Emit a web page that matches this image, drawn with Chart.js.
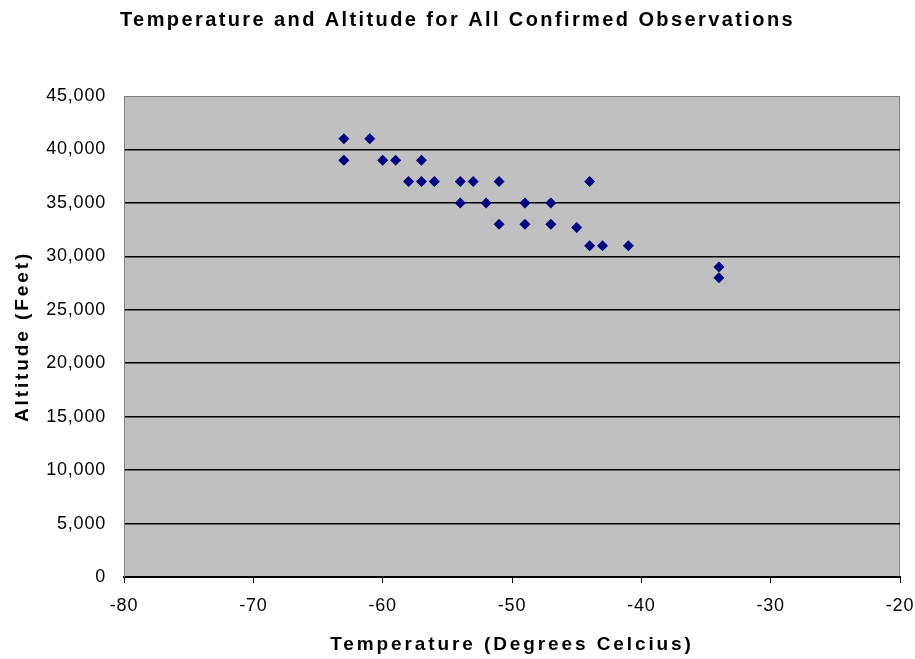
<!DOCTYPE html>
<html>
<head>
<meta charset="utf-8">
<script src="https://cdn.jsdelivr.net/npm/chart.js@4"></script>
<style>
  html, body { margin: 0; padding: 0; background: #fff; }
  #wrap { width: 915px; height: 659px; }
</style>
</head>
<body>
<div id="wrap"><canvas id="chart" width="915" height="659"></canvas></div>
<script>
// temperature (deg C) and altitude (ft) of each confirmed observation
const temperatures = [-63, -61, -63, -60, -59, -57, -58, -57, -56, -54, -53, -51, -44,
  -54, -52, -49, -47, -51, -49, -47, -45, -44, -43, -41, -34, -34];
const altitudes = [41000, 41000, 39000, 39000, 39000, 39000, 37000, 37000, 37000, 37000, 37000, 37000, 37000,
  35000, 35000, 35000, 35000, 33000, 33000, 33000, 32700, 31000, 31000, 31000, 29000, 28000];
const xTicks = [-80, -70, -60, -50, -40, -30, -20];
const yTicks = [0, 5000, 10000, 15000, 20000, 25000, 30000, 35000, 40000, 45000];

const points = temperatures.map((t, i) => ({ x: t, y: altitudes[i] }));

const canvas = document.getElementById('chart');
const ctx = canvas.getContext('2d');

// the original is an old spreadsheet render with loosely spaced text
const rawFill = ctx.fillText.bind(ctx);
const rawMeasure = ctx.measureText.bind(ctx);
const spacing = () => {
  const f = ctx.font;
  if (/20px/.test(f)) return '2.4px';
  if (/bold|700/.test(f)) return '2.9px';
  return '0.8px';
};
ctx.fillText = (...args) => { ctx.letterSpacing = spacing(); return rawFill(...args); };
ctx.measureText = (text) => { ctx.letterSpacing = spacing(); return rawMeasure(text); };

// grey plot area with a thin frame
const plotBackground = {
  id: 'plotBackground',
  beforeDraw(chart) {
    const { ctx, chartArea: a } = chart;
    ctx.save();
    ctx.fillStyle = '#c0c0c0';
    ctx.fillRect(a.left, a.top, a.right - a.left, a.bottom - a.top);
    ctx.strokeStyle = '#808080';
    ctx.lineWidth = 1;
    ctx.strokeRect(a.left + 0.5, a.top + 0.5, a.right - a.left - 1, a.bottom - a.top);
    ctx.restore();
  },
};

const font = { family: 'Arial, "Liberation Sans", sans-serif', size: 18 };
const titleFont = { family: 'Arial, "Liberation Sans", sans-serif', size: 20, weight: 'bold' };
const axisFont = { family: 'Arial, "Liberation Sans", sans-serif', size: 19, weight: 'bold' };

new Chart(canvas, {
  type: 'scatter',
  data: {
    datasets: [{
      data: points,
      pointStyle: 'rectRot',
      pointRadius: 5.5,
      pointHoverRadius: 5.5,
      backgroundColor: '#000080',
      borderColor: '#000080',
      borderWidth: 0,
    }],
  },
  options: {
    responsive: false,
    animation: false,
    layout: { padding: { left: 0, right: 0, top: 0, bottom: 0 } },
    plugins: {
      legend: { display: false },
      tooltip: { enabled: false },
      title: {
        display: true,
        text: 'Temperature and Altitude for All Confirmed Observations',
        color: '#000',
        font: titleFont,
        padding: { top: 8, bottom: 64 },
      },
    },
    scales: {
      x: {
        type: 'linear',
        min: -80,
        max: -20,
        afterBuildTicks: (scale) => { scale.ticks = xTicks.map((v) => ({ value: v })); },
        afterFit: (scale) => {
          scale.height = 82;
          scale.paddingRight = 15;
        },
        ticks: { color: '#000', font, padding: 12, maxRotation: 0 },
        grid: { drawOnChartArea: false, drawTicks: true, tickLength: 6, color: '#000', lineWidth: 1 },
        border: { display: true, color: '#000', width: 2 },
        title: { display: true, text: 'Temperature (Degrees Celcius)', color: '#000', font: axisFont, padding: { top: 10, bottom: 3 } },
      },
      y: {
        type: 'linear',
        min: 0,
        max: 45000,
        afterBuildTicks: (scale) => { scale.ticks = yTicks.map((v) => ({ value: v })); },
        afterFit: (scale) => { scale.width = 124; },
        ticks: {
          color: '#000',
          font,
          padding: 18,
          callback: (v) => v.toLocaleString('en-US'),
        },
        grid: {
          drawTicks: false,
          color: (c) => (c.tick.value === 45000 ? 'rgba(0,0,0,0)' : '#000'),
          lineWidth: 1.5,
        },
        border: { display: true, color: '#808080', width: 1 },
        title: { display: true, text: 'Altitude (Feet)', color: '#000', font: axisFont, padding: { top: 11, bottom: 4 } },
      },
    },
  },
  plugins: [plotBackground],
});
</script>
</body>
</html>
